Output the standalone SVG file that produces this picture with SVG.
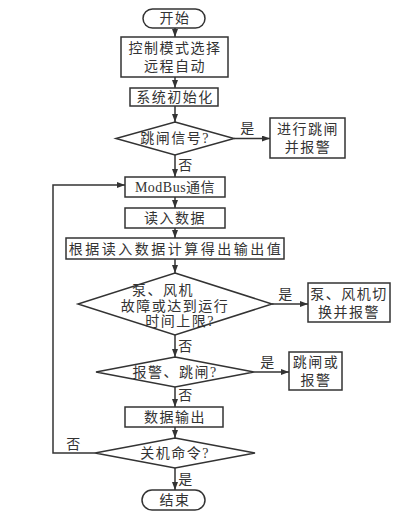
<svg xmlns="http://www.w3.org/2000/svg" width="413" height="515" viewBox="0 0 413 515">
<defs>
<marker id="ah" markerWidth="8" markerHeight="6" refX="8" refY="3" orient="auto" markerUnits="userSpaceOnUse">
<path d="M0,0 L8,3 L0,6 Z" fill="#333"/>
</marker>
<style>
.s{fill:#fff;stroke:#333;stroke-width:1.5}
.c{fill:none;stroke:#333;stroke-width:1.5;marker-end:url(#ah)}
.l{fill:none;stroke:#333;stroke-width:1.5}
text{font-family:"Liberation Serif","Noto Sans CJK SC",serif;font-size:14px;fill:#333;text-anchor:middle;letter-spacing:1.5px}
.w{letter-spacing:2.5px}
</style>
</defs>
<rect width="413" height="515" fill="#fff"/>
<g id="connectors">
<line class="c" x1="175" y1="28" x2="175" y2="37"/>
<line class="c" x1="175" y1="77" x2="175" y2="88"/>
<line class="c" x1="175" y1="106" x2="175" y2="122"/>
<line class="c" x1="234" y1="138.5" x2="270" y2="138.5"/>
<text x="248" y="133">是</text>
<line class="c" x1="175" y1="155" x2="175" y2="177"/>
<text x="186" y="170">否</text>
<line class="c" x1="175" y1="197" x2="175" y2="208"/>
<line class="c" x1="175" y1="228" x2="175" y2="238"/>
<line class="c" x1="175" y1="259" x2="175" y2="273"/>
<line class="c" x1="272" y1="304" x2="308" y2="304"/>
<text x="286" y="299">是</text>
<line class="c" x1="175" y1="335" x2="175" y2="357"/>
<text x="186" y="351">否</text>
<line class="c" x1="254" y1="372" x2="289" y2="372"/>
<text x="268" y="367">是</text>
<line class="c" x1="175" y1="387" x2="175" y2="407"/>
<text x="186" y="400">否</text>
<line class="c" x1="175" y1="427" x2="175" y2="438"/>
<polyline class="c" points="95,453 53,453 53,185 125,185"/>
<text x="74" y="449">否</text>
<line class="c" x1="175" y1="468" x2="175" y2="490"/>
<text x="186" y="484">是</text>
</g>
<g id="start"><rect class="s" x="143" y="9" width="62" height="19" rx="9.5"/><text x="175" y="23">开始</text></g>
<g id="mode"><rect class="s" x="121" y="37" width="107" height="40"/><text x="175" y="53">控制模式选择</text><text x="175" y="71">远程自动</text></g>
<g id="init"><rect class="s" x="130" y="88" width="88" height="18"/><text x="175" y="102">系统初始化</text></g>
<g id="trip"><polygon class="s" points="175,122 234,138.5 175,155 116,138.5"/><text x="175" y="143">跳闸信号?</text></g>
<g id="tripAlarm"><rect class="s" x="270" y="118" width="75" height="40"/><text x="308" y="134">进行跳闸</text><text x="308" y="152">并报警</text></g>
<g id="modbus"><rect class="s" x="125" y="177" width="100" height="20"/><text x="175" y="192" style="letter-spacing:0.5px">ModBus通信</text></g>
<g id="read"><rect class="s" x="125" y="208" width="100" height="20"/><text x="175" y="223">读入数据</text></g>
<g id="compute"><rect class="s" x="66" y="238" width="218" height="21"/><text class="w" x="176" y="254">根据读入数据计算得出输出值</text></g>
<g id="fault"><polygon class="s" points="175,273 272,304 175,335 78,304"/><text x="163" y="295">泵、风机</text><text x="175" y="311">故障或达到运行</text><text x="180" y="326">时间上限?</text></g>
<g id="switch"><rect class="s" x="308" y="283" width="82" height="39"/><text x="349" y="299">泵、风机切</text><text x="349" y="317">换并报警</text></g>
<g id="alarm"><polygon class="s" points="175,357 254,372 175,387 96,372"/><text x="175" y="377">报警、跳闸?</text></g>
<g id="tripOr"><rect class="s" x="289" y="352" width="53" height="38"/><text x="316" y="367">跳闸或</text><text x="316" y="385">报警</text></g>
<g id="output"><rect class="s" x="125" y="407" width="98" height="20"/><text x="175" y="422">数据输出</text></g>
<g id="shutdown"><polygon class="s" points="175,438 255,453 175,468 95,453"/><text x="175" y="458">关机命令?</text></g>
<g id="end"><rect class="s" x="142" y="490" width="63" height="20" rx="10"/><text x="175" y="505">结束</text></g>
</svg>
